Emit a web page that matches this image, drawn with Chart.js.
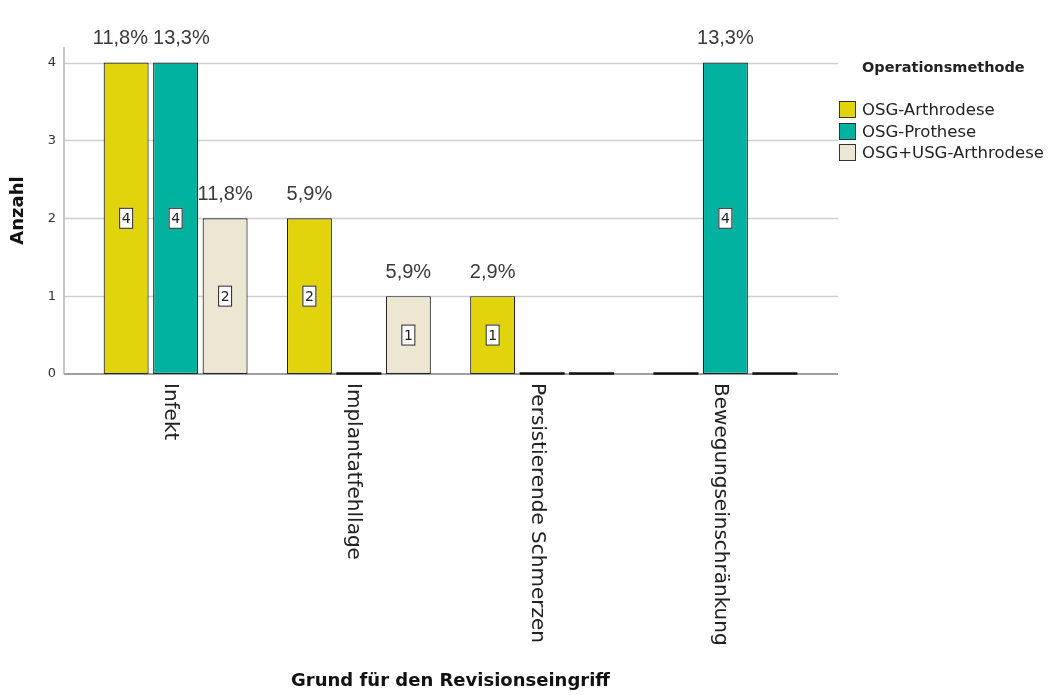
<!DOCTYPE html>
<html lang="de">
<head>
<meta charset="utf-8">
<title>Grund für den Revisionseingriff</title>
<script src="https://cdn.jsdelivr.net/npm/chart.js@4.4.1/dist/chart.umd.min.js"></script>
<style>
  body { margin: 0; background: #fff; }
  #wrap { position: relative; width: 1056px; height: 695px; }
  #legend { position: absolute; left: 839px; top: 55px; font-family: "DejaVu Sans", sans-serif; color: #222; }
  #legend .title { font-weight: bold; font-size: 14.5px; margin-left: 23px; height: 24px; line-height: 24px; }
  #legend .items { margin-top: 20px; }
  #legend .item { display: flex; align-items: center; height: 21.5px; font-size: 16.5px; }
  #legend .box { width: 15px; height: 15px; border: 1px solid #333; margin-right: 6px; }
</style>
</head>
<body>
<div id="wrap">
  <canvas id="chart" width="1056" height="695"></canvas>
  <div id="legend">
    <div class="title">Operationsmethode</div>
    <div class="items" id="legendItems"></div>
  </div>
</div>
<script>
const categories = ["Infekt", "Implantatfehllage", "Persistierende Schmerzen", "Bewegungseinschränkung"];
const seriesNames = ["OSG-Arthrodese", "OSG-Prothese", "OSG+USG-Arthrodese"];
const seriesColors = ["rgb(226, 212, 12)", "rgb(0, 178, 159)", "rgb(236, 230, 210)"];

const arthrodese = [4, 2, 1, 0];
const prothese = [4, 0, 0, 4];
const kombi = [2, 1, 0, 0];

// Prozentangaben über den Balken (null = keine Beschriftung)
const pctArthrodese = ["11,8%", "5,9%", "2,9%", null];
const pctProthese = ["13,3%", null, null, "13,3%"];
const pctKombi = ["11,8%", "5,9%", null, null];

const yTicks = [0, 1, 2, 3, 4];

const seriesValues = [arthrodese, prothese, kombi];
const seriesPct = [pctArthrodese, pctProthese, pctKombi];

// legend
const legendItems = document.getElementById("legendItems");
seriesNames.forEach((name, i) => {
  const row = document.createElement("div");
  row.className = "item";
  const box = document.createElement("div");
  box.className = "box";
  box.style.background = seriesColors[i];
  const label = document.createElement("span");
  label.textContent = name;
  row.appendChild(box);
  row.appendChild(label);
  legendItems.appendChild(row);
});

const AXIS_LEFT = 64;
const AXIS_RIGHT = 838;
const PCT_FONT = "20px 'Liberation Sans'";

const backgroundPlugin = {
  id: "spssGrid",
  beforeDatasetsDraw(chart) {
    const { ctx, chartArea, scales } = chart;
    const y = scales.y;
    ctx.save();
    ctx.lineWidth = 1.5;
    ctx.strokeStyle = "#cfcfcf";
    yTicks.forEach((v) => {
      if (v === 0) return;
      const py = Math.round(y.getPixelForValue(v)) + 0.5;
      ctx.beginPath();
      ctx.moveTo(AXIS_LEFT, py);
      ctx.lineTo(AXIS_RIGHT, py);
      ctx.stroke();
    });
    // y axis line
    ctx.strokeStyle = "#b4b4b4";
    ctx.beginPath();
    ctx.moveTo(AXIS_LEFT, chartArea.top);
    ctx.lineTo(AXIS_LEFT, y.getPixelForValue(0));
    ctx.stroke();
    // baseline
    ctx.lineWidth = 2;
    ctx.strokeStyle = "#a0a0a0";
    const base = y.getPixelForValue(0);
    ctx.beginPath();
    ctx.moveTo(AXIS_LEFT, base);
    ctx.lineTo(AXIS_RIGHT, base);
    ctx.stroke();
    ctx.restore();
  },
  afterDatasetsDraw(chart) {
    const { ctx, scales } = chart;
    const base = scales.y.getPixelForValue(0);
    const pctLabels = [];
    ctx.save();
    chart.data.datasets.forEach((ds, di) => {
      const meta = chart.getDatasetMeta(di);
      meta.data.forEach((bar, i) => {
        const value = ds.data[i];
        const half = bar.width / 2;
        if (value === 0) {
          ctx.strokeStyle = "#111";
          ctx.lineWidth = 2.5;
          ctx.beginPath();
          ctx.moveTo(bar.x - half, base - 0.5);
          ctx.lineTo(bar.x + half, base - 0.5);
          ctx.stroke();
          return;
        }
        // count box in the middle of the bar
        const mid = (bar.y + base) / 2;
        ctx.fillStyle = "#fff";
        ctx.strokeStyle = "#222";
        ctx.lineWidth = 1;
        ctx.fillRect(bar.x - 7, mid - 10.5, 14, 21);
        ctx.strokeRect(bar.x - 7 + 0.5, mid - 10.5 + 0.5, 13, 20);
        ctx.fillStyle = "#222";
        ctx.font = "14px 'DejaVu Sans'";
        ctx.textAlign = "center";
        ctx.textBaseline = "middle";
        ctx.fillText(String(value), bar.x, mid + 1);
        const pct = seriesPct[di][i];
        if (pct) pctLabels.push({ text: pct, x: bar.x, y: bar.y - 24, cat: i });
      });
    });

    // percentages above the bars, pushed apart when they collide
    ctx.font = PCT_FONT;
    pctLabels.forEach((l) => { l.w = ctx.measureText(l.text).width; });
    pctLabels.sort((a, b) => a.x - b.x);
    for (let k = 1; k < pctLabels.length; k++) {
      const a = pctLabels[k - 1];
      const b = pctLabels[k];
      if (Math.abs(a.y - b.y) > 18) continue;
      const overlap = (a.x + a.w / 2) - (b.x - b.w / 2) + 5;
      if (overlap > 0) {
        a.x -= overlap / 2;
        b.x += overlap / 2;
      }
    }
    ctx.fillStyle = "#3a3a3a";
    ctx.textAlign = "center";
    ctx.textBaseline = "middle";
    pctLabels.forEach((l) => ctx.fillText(l.text, l.x, l.y));
    ctx.restore();
  },
  afterDraw(chart) {
    const { ctx, scales } = chart;
    const x = scales.x;
    ctx.save();
    ctx.fillStyle = "#222";
    ctx.font = "20px 'DejaVu Sans'";
    ctx.textAlign = "left";
    ctx.textBaseline = "alphabetic";
    categories.forEach((label, i) => {
      const px = x.getPixelForTick(i);
      ctx.save();
      ctx.translate(px - 10.5, 383);
      ctx.rotate(Math.PI / 2);
      ctx.fillText(label, 0, 0);
      ctx.restore();
    });
    ctx.restore();
  },
};

new Chart(document.getElementById("chart"), {
  type: "bar",
  data: {
    labels: categories,
    datasets: seriesNames.map((name, i) => ({
      label: name,
      data: seriesValues[i],
      backgroundColor: seriesColors[i],
      borderColor: "#262626",
      borderWidth: 1.2,
      borderSkipped: false,
      categoryPercentage: 0.81,
      barPercentage: 0.91,
    })),
  },
  options: {
    responsive: false,
    animation: false,
    layout: { padding: { left: 0, right: 239, top: 47, bottom: 0 } },
    plugins: {
      legend: { display: false },
      tooltip: { enabled: false },
    },
    scales: {
      x: {
        grid: { display: false, drawTicks: false },
        border: { display: false },
        ticks: { display: false },
        afterFit: (scale) => { scale.height = 321; },
        title: {
          display: true,
          text: "Grund für den Revisionseingriff",
          color: "#111",
          font: { family: "DejaVu Sans", size: 18, weight: "bold" },
          padding: { top: 0, bottom: 3 },
        },
      },
      y: {
        min: 0,
        max: 4.2,
        grid: { display: false, drawTicks: false },
        border: { display: false },
        afterBuildTicks: (axis) => {
          axis.ticks = yTicks.map((v) => ({ value: v }));
        },
        afterFit: (scale) => { scale.width = 84; },
        ticks: {
          padding: 28,
          color: "#333",
          font: { family: "DejaVu Sans", size: 13 },
        },
        title: {
          display: true,
          text: "Anzahl",
          color: "#111",
          font: { family: "DejaVu Sans", size: 18, weight: "bold" },
          padding: { top: 8, bottom: 0 },
        },
      },
    },
  },
  plugins: [backgroundPlugin],
});
</script>
</body>
</html>
